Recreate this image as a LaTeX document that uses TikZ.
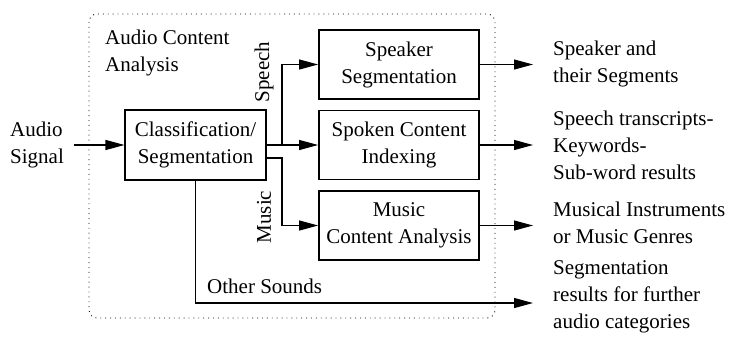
\documentclass[tikz,border=0pt]{standalone}
\usepackage{fontspec}
\setmainfont{Liberation Serif}
\usetikzlibrary{arrows.meta,calc}
\begin{document}
\begin{tikzpicture}[x=1pt,y=-1pt,
  every node/.style={font=\fontsize{21}{27}\selectfont, inner sep=0pt},
  proc/.style={draw, line width=1.8pt, minimum width=160pt, minimum height=69pt, align=center},
  cbox/.style={draw, line width=1.1pt, minimum width=141pt, minimum height=70pt, align=center},
  lbl/.style={align=left, anchor=west},
  arr/.style={line width=1.1pt, -{Triangle[length=19pt,width=10pt]}},
  ln/.style={line width=1.1pt}]
\useasboundingbox (0,0) rectangle (729,338);
\draw[line width=0.9pt, dash pattern=on 0.9pt off 4pt, rounded corners=8pt] (89,14) rectangle (495,318);
\node[lbl] (aca) at (105,52.5) {Audio Content\\Analysis};
\node[lbl] (audio) at (10,145) {Audio\\Signal};
\node[cbox] (cls) at (195.5,145) {Classification/\\Segmentation};
\node[proc] (spk) at (399,64.5) {Speaker\\Segmentation};
\node[proc] (spc) at (399,145) {Spoken Content\\Indexing};
\node[proc] (mus) at (399,225.5) {Music\\Content Analysis};
\node[rotate=90] (speech) at (264,72) {Speech};
\node[rotate=90] (music) at (264,217) {Music};
\node[lbl] (other) at (207,286) {Other Sounds};
\node[lbl] (o1) at (553,64) {Speaker and\\their Segments};
\node[lbl] (o2) at (553,145) {Speech transcripts-\\Keywords-\\Sub-word results};
\node[lbl] (o3) at (553,223) {Musical Instruments\\or Music Genres};
\node[lbl] (o4) at (553,297) {Segmentation\\results for further\\audio categories};
\coordinate (tip) at (533,0);
\coordinate (br) at (282,145);
\coordinate (low) at (195.5,303);
\draw[arr] ([xshift=10pt]audio.east |- cls.west) -- (cls.west);
\draw[arr] (cls.east) -- (spc.west);
\draw[arr] (br) |- (spk.west);
\draw[arr] ($(cls.east)+(0,13)$) -| ($(br)+(0,13)$) |- (mus.west);
\draw[arr] (cls.south) -- (low) -- (low -| tip);
\draw[arr] (spk.east) -- (spk.east -| tip);
\draw[arr] (spc.east) -- (spc.east -| tip);
\draw[arr] (mus.east) -- (mus.east -| tip);
\end{tikzpicture}
\end{document}
